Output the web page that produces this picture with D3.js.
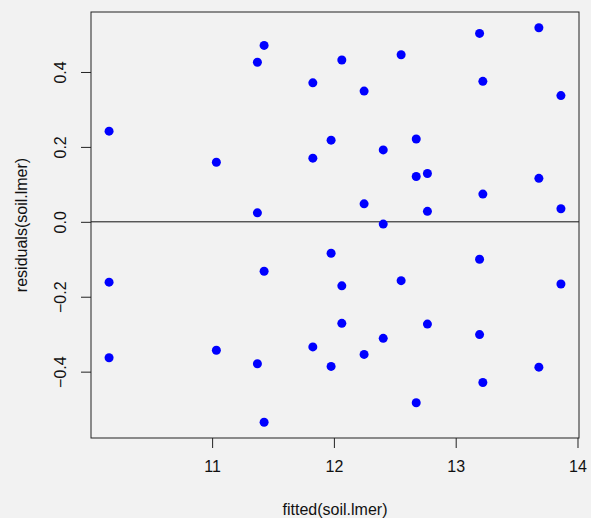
<!DOCTYPE html>
<html>
<head>
<meta charset="utf-8">
<script src="https://cdn.jsdelivr.net/npm/d3@7"></script>
<style>
  body { margin: 0; background: #f2f2f2; }
  svg { display: block; font-family: "Liberation Sans", Arial, sans-serif; }
</style>
</head>
<body>
<svg id="residPlot" width="591" height="518"></svg>
<script>
// fitted values (x) and residuals (y)
const fittedVals = [
  10.154, 10.154, 10.154,
  11.035, 11.035,
  11.372, 11.372, 11.372,
  11.427, 11.427, 11.427,
  11.827, 11.827, 11.827,
  11.977, 11.977, 11.977,
  12.065, 12.065, 12.065,
  12.248, 12.248, 12.248,
  12.405, 12.405, 12.405,
  12.552, 12.552,
  12.676, 12.676, 12.676,
  12.768, 12.768, 12.768,
  13.196, 13.196, 13.196,
  13.223, 13.223, 13.223,
  13.683, 13.683, 13.683,
  13.864, 13.864, 13.864
];
const residVals = [
  0.242, -0.161, -0.363,
  0.159, -0.343,
  0.426, 0.024, -0.379,
  0.471, -0.132, -0.535,
  0.371, 0.170, -0.334,
  0.218, -0.084, -0.386,
  0.432, -0.171, -0.271,
  0.349, 0.048, -0.354,
  0.192, -0.006, -0.311,
  0.446, -0.157,
  0.221, 0.121, -0.483,
  0.129, 0.028, -0.273,
  0.503, -0.100, -0.301,
  0.375, 0.074, -0.429,
  0.518, 0.116, -0.388,
  0.337, 0.035, -0.166
];
const xTicks = [11, 12, 13, 14];
const yTicks = [-0.4, -0.2, 0.0, 0.2, 0.4];
const xLabel = 'fitted(soil.lmer)';
const yLabel = 'residuals(soil.lmer)';

const data = fittedVals.map((f, i) => ({ fitted: f, resid: residVals[i] }));

const svg = d3.select('#residPlot');
const margin = { top: 12, left: 91, right: 12, bottom: 80 };
const W = +svg.attr('width'), H = +svg.attr('height');
const innerW = W - margin.left - margin.right;
const innerH = H - margin.top - margin.bottom;

// R style: pad the data range by 4% on each side
function padded(ext) {
  const d = (ext[1] - ext[0]) * 0.04;
  return [ext[0] - d, ext[1] + d];
}

const x = d3.scaleLinear()
  .domain(padded(d3.extent(data, d => d.fitted)))
  .range([0, innerW]);
const y = d3.scaleLinear()
  .domain(padded(d3.extent(data, d => d.resid)))
  .range([innerH, 0]);

const g = svg.append('g')
  .attr('transform', `translate(${margin.left},${margin.top})`);

const xAxis = g.append('g')
  .attr('transform', `translate(0,${innerH})`)
  .call(d3.axisBottom(x).tickValues(xTicks).tickSize(10).tickPadding(13).tickFormat(d3.format('d')));
const yAxis = g.append('g')
  .call(d3.axisLeft(y).tickValues(yTicks).tickSize(10).tickFormat(d3.format('.1f')));

[xAxis, yAxis].forEach(a => {
  a.select('.domain').remove();
  a.selectAll('line').attr('stroke', '#222');
  a.selectAll('text').attr('font-size', 16).attr('fill', '#111')
    .attr('font-family', '"Liberation Sans", Arial, sans-serif');
});

// y tick labels are rotated like R's las=0
yAxis.selectAll('.tick text')
  .attr('x', 0).attr('dy', 0)
  .attr('text-anchor', 'middle')
  .attr('transform', 'translate(-25,0) rotate(-90)');

// zero line
g.append('line')
  .attr('x1', 0).attr('x2', innerW)
  .attr('y1', y(0)).attr('y2', y(0))
  .attr('stroke', '#111').attr('stroke-width', 1);

g.selectAll('circle')
  .data(data)
  .enter().append('circle')
  .attr('cx', d => x(d.fitted))
  .attr('cy', d => y(d.resid))
  .attr('r', 4.5)
  .attr('fill', '#0000ff');

// plot box
g.append('rect')
  .attr('width', innerW).attr('height', innerH)
  .attr('fill', 'none').attr('stroke', '#222').attr('stroke-width', 1);

svg.append('text')
  .attr('x', margin.left + innerW / 2).attr('y', 515)
  .attr('text-anchor', 'middle').attr('font-size', 16).attr('fill', '#111')
  .text(xLabel);

svg.append('text')
  .attr('transform', `translate(27,${margin.top + innerH / 2}) rotate(-90)`)
  .attr('text-anchor', 'middle').attr('font-size', 16).attr('fill', '#111')
  .text(yLabel);
</script>
</body>
</html>
